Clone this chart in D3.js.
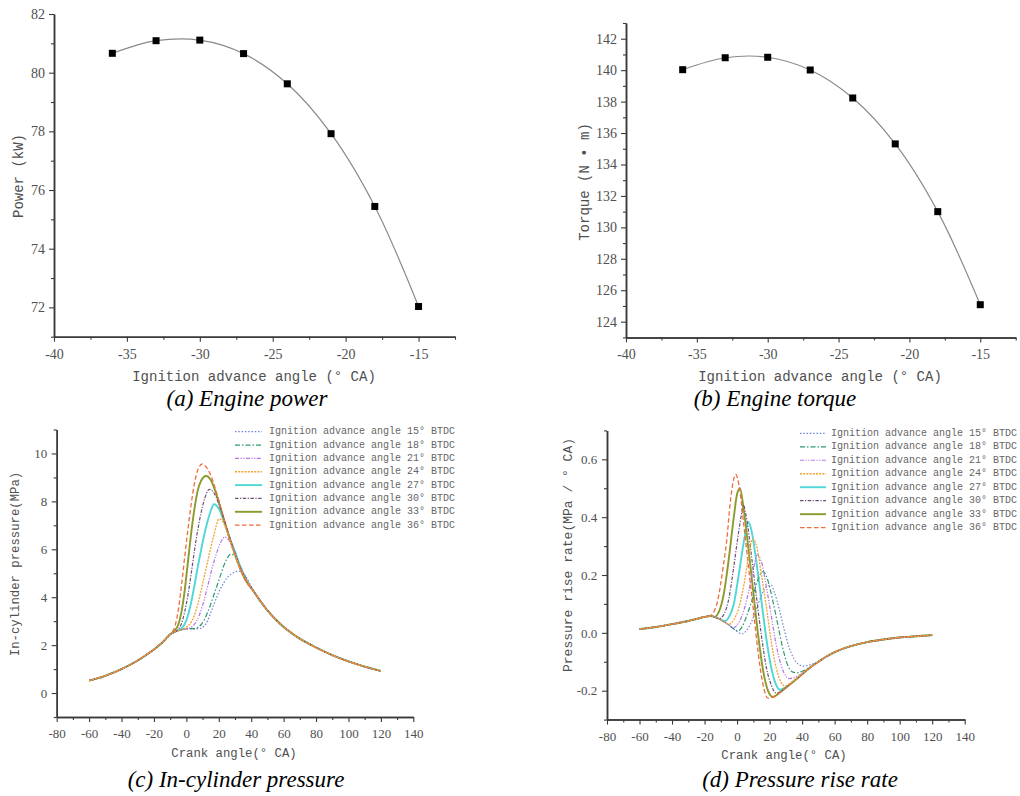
<!DOCTYPE html>
<html>
<head>
<meta charset="utf-8">
<script src="https://cdn.jsdelivr.net/npm/d3@7"></script>
<style>
  body { margin: 0; background: #fff; }
  svg { display: block; }
</style>
</head>
<body>
<svg id="chart" width="1020" height="796"></svg>
<script>
// ---------- data ----------
const advance = [-36, -33, -30, -27, -24, -21, -18, -15];
const power   = [80.66, 81.09, 81.11, 80.65, 79.62, 77.92, 75.44, 72.03];
const torque  = [140.03, 140.79, 140.82, 140.01, 138.23, 135.31, 131.0, 125.08];

const angles = ["15", "18", "21", "24", "27", "30", "33", "36"];

// (c) in-cylinder pressure, MPa — shared compression & expansion parts
const pComp = [[-60,0.52],[-55,0.61],[-50,0.72],[-45,0.85],[-40,1.0],[-35,1.17],[-30,1.36],[-25,1.58],[-20,1.82],[-15,2.1],[-10,2.45]];
const pTail = [[42,4.2],[45,3.9],[50,3.45],[55,3.08],[60,2.76],[65,2.5],[70,2.27],[80,1.9],[90,1.58],[100,1.32],[110,1.1],[120,0.92]];
const p15 = [[-5,2.6],[0,2.68],[5,2.68],[9,2.7],[11,2.8],[13,3.0],[15,3.35],[17,3.7],[19,4.05],[21,4.35],[23,4.6],[25,4.8],[28,4.98],[30,5.05],[32.6,5.09],[35,5.0],[38,4.72],[40,4.45]];
const p18 = [[-5,2.6],[0,2.68],[5,2.69],[7,2.74],[9,2.85],[11,3.05],[13,3.35],[15,3.7],[17,4.1],[19,4.5],[21,4.9],[23,5.3],[25,5.6],[27.3,5.8],[30,5.7],[33,5.3],[36,4.9],[39,4.5]];
const p21 = [[-5,2.6],[0,2.68],[2,2.71],[4,2.8],[6,2.97],[8,3.25],[10,3.65],[12,4.15],[14,4.7],[16,5.25],[18,5.7],[20,6.1],[22,6.4],[23.8,6.52],[26,6.4],[29,6.0],[32,5.45],[35,5.0],[38,4.6]];
const p24 = [[-5,2.6],[-1,2.7],[1,2.8],[3,2.97],[5,3.25],[7,3.7],[9,4.25],[11,4.85],[13,5.45],[15,6.05],[17,6.6],[18.5,7.0],[20.1,7.26],[22,7.2],[25,6.75],[28,6.15],[31,5.6],[34,5.1],[37,4.72]];
const p27 = [[-5,2.62],[-3,2.7],[-1,2.88],[1,3.25],[3,3.8],[5,4.5],[7,5.25],[9,5.95],[11,6.6],[13,7.15],[15,7.6],[17,7.88],[20,7.7],[23,7.2],[26,6.6],[30,5.9],[33,5.33],[36,4.86]];
const p30 = [[-7,2.55],[-5,2.66],[-3,2.9],[-1,3.4],[1,4.1],[3,5.0],[5,5.95],[7,6.8],[9,7.5],[11,8.05],[14.2,8.5],[17,8.35],[20,7.9],[23,7.3],[26,6.65],[30,5.85],[33,5.28],[36,4.82]];
const p33 = [[-7,2.62],[-5,2.85],[-3,3.4],[-1,4.3],[1,5.5],[3,6.7],[5,7.7],[7,8.45],[9,8.85],[12.1,9.06],[15,8.9],[18,8.4],[21,7.75],[24,7.05],[27,6.38],[30,5.78],[33,5.22],[36,4.78]];
const p36 = [[-7,2.8],[-5,3.45],[-3,4.5],[-1,5.7],[1,6.85],[3,7.9],[5,8.75],[7,9.3],[9.8,9.56],[12,9.45],[15,9.1],[18,8.5],[21,7.8],[24,7.05],[27,6.35],[30,5.75],[33,5.2],[36,4.75]];

// (d) pressure rise rate, MPa/°CA
const dComp = [[-60,0.013],[-50,0.02],[-40,0.03],[-30,0.041],[-25,0.048],[-20,0.055],[-17,0.058]];
const dTail = [[50,-0.1],[55,-0.082],[60,-0.067],[70,-0.046],[80,-0.032],[90,-0.023],[100,-0.016],[110,-0.012],[120,-0.008]];
const d15 = [[-15,0.057],[-10,0.045],[-5,0.027],[0,0.005],[3,-0.004],[6,0.01],[9,0.04],[12,0.085],[15,0.13],[18,0.16],[21,0.165],[23,0.14],[26,0.08],[29,0.01],[32,-0.05],[35,-0.09],[38,-0.11],[41,-0.115],[45,-0.11]];
const d18 = [[-15,0.057],[-10,0.045],[-5,0.027],[-2,0.013],[0.5,0.007],[3,0.02],[6,0.06],[9,0.11],[12,0.17],[14.5,0.205],[16,0.212],[19,0.18],[22,0.11],[25,0.03],[28,-0.05],[31,-0.11],[34,-0.135],[37,-0.138],[40,-0.133],[45,-0.118]];
const d21 = [[-15,0.057],[-10,0.045],[-5,0.027],[-2,0.018],[1,0.035],[4,0.075],[7,0.14],[10,0.22],[12.5,0.27],[15,0.245],[18,0.16],[21,0.06],[24,-0.04],[27,-0.11],[30,-0.15],[32,-0.158],[35,-0.155],[40,-0.14],[45,-0.12]];
const d24 = [[-15,0.057],[-10,0.045],[-5,0.03],[-2,0.045],[1,0.085],[4,0.16],[7,0.26],[9.5,0.325],[12,0.3],[15,0.2],[18,0.09],[21,-0.03],[24,-0.12],[27,-0.17],[29,-0.183],[32,-0.177],[35,-0.165],[40,-0.142],[45,-0.12]];
const d27 = [[-15,0.057],[-10,0.046],[-8,0.04],[-5,0.055],[-2,0.1],[1,0.2],[4,0.31],[6,0.37],[6.9,0.384],[9,0.35],[12,0.24],[15,0.11],[18,-0.02],[21,-0.12],[24,-0.18],[26.5,-0.197],[30,-0.188],[35,-0.166],[40,-0.143],[45,-0.12]];
const d30 = [[-15,0.057],[-11,0.049],[-8,0.065],[-5,0.12],[-2,0.23],[1,0.35],[3,0.42],[3.8,0.442],[6,0.39],[9,0.26],[12,0.12],[15,-0.01],[18,-0.12],[21,-0.18],[24,-0.208],[27,-0.203],[30,-0.19],[35,-0.167],[40,-0.143],[45,-0.12]];
const d33 = [[-15,0.057],[-14,0.055],[-11,0.075],[-8,0.14],[-5,0.26],[-2,0.4],[0,0.48],[1.8,0.5],[4,0.43],[7,0.29],[10,0.14],[13,-0.01],[16,-0.13],[19,-0.2],[22,-0.222],[25,-0.212],[30,-0.19],[35,-0.167],[40,-0.143],[45,-0.12]];
const d36 = [[-15,0.066],[-12,0.11],[-8.5,0.23],[-6,0.34],[-4.4,0.44],[-2.5,0.52],[-0.85,0.548],[1.5,0.5],[4,0.38],[7,0.23],[10,0.08],[13,-0.07],[16,-0.18],[19,-0.226],[22,-0.222],[25,-0.212],[30,-0.19],[35,-0.167],[40,-0.143],[45,-0.12]];

const pressure = [p15, p18, p21, p24, p27, p30, p33, p36].map(s => pComp.concat(s, pTail));
const riseRate = [d15, d18, d21, d24, d27, d30, d33, d36].map(s => dComp.concat(s, dTail));

// line styles per ignition angle
const styles = [
  { color: "#6d84dc", dash: "1.5,1.8", w: 1.2 },
  { color: "#2f9a6c", dash: "5,2,1.5,2", w: 1.2 },
  { color: "#b574e6", dash: "4,1.5,1.2,1.5,1.2,1.5", w: 1.2 },
  { color: "#f2a22e", dash: "2,1.2", w: 1.3 },
  { color: "#4fd6d6", dash: null, w: 1.9 },
  { color: "#6c5078", dash: "3.5,1.5,1.2,1.5", w: 1.2 },
  { color: "#8b9a2c", dash: null, w: 1.9 },
  { color: "#f06c3c", dash: "4.5,2.5", w: 1.3 }
];
// solid lines underneath, orange dotted on top (as in the plot)
const drawOrder = [4, 6, 0, 1, 2, 5, 7, 3];

// ---------- drawing ----------
const svg = d3.select("#chart");
const ink = "#3a3a3a", grey = "#505050";
const mono = "'Liberation Mono', monospace";
const serif = "'Liberation Serif', serif";

function frame(o) {
  const x = d3.scaleLinear().domain(o.xd).range(o.xr);
  const y = d3.scaleLinear().domain(o.yd).range(o.yr);
  const g = svg.append("g");
  const y0 = o.yr[0], x0 = o.xr[0];

  g.append("g").attr("transform", `translate(0,${y0})`)
    .call(d3.axisBottom(x).tickValues(o.xMinor).tickSize(3).tickSizeOuter(0).tickFormat(""));
  g.append("g").attr("transform", `translate(0,${y0})`)
    .call(d3.axisBottom(x).tickValues(o.xMajor).tickSize(5).tickSizeOuter(0)
      .tickPadding(o.xPad).tickFormat(o.xFmt));
  g.append("g").attr("transform", `translate(${x0},0)`)
    .call(d3.axisLeft(y).tickValues(o.yMinor).tickSize(3).tickSizeOuter(0).tickFormat(""));
  g.append("g").attr("transform", `translate(${x0},0)`)
    .call(d3.axisLeft(y).tickValues(o.yMajor).tickSize(5).tickSizeOuter(0)
      .tickPadding(o.yPad).tickFormat(o.yFmt));

  g.selectAll(".domain").attr("stroke", ink).attr("stroke-width", 1.5);
  g.selectAll(".tick line").attr("stroke", ink).attr("stroke-width", 1.1);
  g.selectAll(".tick text").attr("fill", grey)
    .style("font-family", serif).style("font-size", o.tickSize + "px");

  g.append("text").attr("x", o.xl[0]).attr("y", o.xl[1]).attr("text-anchor", "middle")
    .attr("fill", grey).style("font-family", mono).attr("font-size", o.labSize).text(o.xLabel);
  g.append("text").attr("transform", `translate(${o.yl[0]},${o.yl[1]}) rotate(-90)`)
    .attr("text-anchor", "middle").attr("dominant-baseline", "middle")
    .attr("fill", grey).style("font-family", mono).attr("font-size", o.ylSize || o.labSize).text(o.yLabel);

  g.append("text").attr("x", o.cap[0]).attr("y", o.cap[1]).attr("text-anchor", "middle")
    .attr("fill", "#000").style("font-family", serif).attr("font-style", "italic")
    .attr("font-size", 23).text(o.caption);
  return { g, x, y };
}

const intFmt = d => String(d);
const decFmt = d => d.toFixed(1);

function scatterPanel(o, vals) {
  const { g, x, y } = frame(o);
  const pts = advance.map((a, i) => [a, vals[i]]);
  g.append("path").datum(pts)
    .attr("d", d3.line().x(d => x(d[0])).y(d => y(d[1])).curve(d3.curveCatmullRom.alpha(0.5)))
    .attr("fill", "none").attr("stroke", "#8a8a8a").attr("stroke-width", 1.2);
  g.selectAll("rect.m").data(pts).join("rect")
    .attr("x", d => x(d[0]) - 3.5).attr("y", d => y(d[1]) - 3.5)
    .attr("width", 7).attr("height", 7).attr("fill", "#000");
}

function curvePanel(o, series, leg) {
  const { g, x, y } = frame(o);
  const line = d3.line().x(d => x(d[0])).y(d => y(d[1])).curve(d3.curveMonotoneX);
  drawOrder.forEach(i => {
    const st = styles[i];
    g.append("path").datum(series[i]).attr("d", line)
      .attr("fill", "none").attr("stroke", st.color).attr("stroke-width", st.w)
      .attr("stroke-dasharray", st.dash);
  });
  angles.forEach((a, i) => {
    const st = styles[i], ry = leg.y + i * leg.dy;
    g.append("line").attr("x1", leg.x1).attr("x2", leg.x2).attr("y1", ry).attr("y2", ry)
      .attr("stroke", st.color).attr("stroke-width", st.w).attr("stroke-dasharray", st.dash);
    g.append("text").attr("x", leg.tx).attr("y", ry).attr("dominant-baseline", "middle")
      .attr("fill", "#666").style("font-family", mono).attr("font-size", 10)
      .text(`Ignition advance angle ${a}° BTDC`);
  });
}

const advTicks = { xd: [-40, -12.5], xMajor: [-40, -35, -30, -25, -20, -15],
  xMinor: [-37.5, -32.5, -27.5, -22.5, -17.5, -12.5], xFmt: intFmt, yFmt: intFmt,
  xPad: 7, yPad: 4, tickSize: 14, labSize: 14, xLabel: "Ignition advance angle (° CA)" };

scatterPanel(Object.assign({}, advTicks, {
  xr: [54, 455], yd: [71, 82], yr: [336.7, 14],
  yMajor: [72, 74, 76, 78, 80, 82], yMinor: [71, 73, 75, 77, 79, 81],
  yLabel: "Power (kW)", xl: [254, 381], yl: [19, 176],
  caption: "(a) Engine power", cap: [247, 406]
}), power);

scatterPanel(Object.assign({}, advTicks, {
  xr: [626, 1015.7], yd: [123, 143], yr: [337.4, 23],
  yMajor: d3.range(124, 143, 2), yMinor: d3.range(123, 144, 2),
  yLabel: "Torque (N • m)", xl: [820, 381], yl: [585, 182],
  caption: "(b) Engine torque", cap: [775, 406]
}), torque);

const crankTicks = { xd: [-80, 140], xMajor: d3.range(-80, 141, 20), xMinor: d3.range(-70, 140, 20),
  xFmt: intFmt, xPad: 7, tickSize: 13, labSize: 12.3, xLabel: "Crank angle(° CA)" };

curvePanel(Object.assign({}, crankTicks, {
  xr: [56.7, 413.3], yd: [-1, 11], yr: [717, 429.5],
  yMajor: [0, 2, 4, 6, 8, 10], yMinor: [-1, 1, 3, 5, 7, 9, 11], yFmt: intFmt, yPad: 4.5,
  yLabel: "In-cylinder pressure(MPa)", xl: [234, 757], yl: [16, 564],
  caption: "(c) In-cylinder pressure", cap: [236, 787]
}), pressure, { x1: 235, x2: 262, tx: 269, y: 431.7, dy: 13.35 });

curvePanel(Object.assign({}, crankTicks, {
  xr: [607, 964.7], yd: [-0.3, 0.7], yr: [719.6, 430.4],
  yMajor: [-0.2, 0, 0.2, 0.4, 0.6], yMinor: [-0.3, -0.1, 0.1, 0.3, 0.5, 0.7], yFmt: decFmt, yPad: 4.7,
  yLabel: "Pressure rise rate(MPa / ° CA)", ylSize: 13, xl: [784, 759], yl: [569, 555],
  caption: "(d) Pressure rise rate", cap: [800, 787]
}), riseRate, { x1: 800, x2: 826, tx: 831, y: 433.3, dy: 13.48 });
</script>
</body>
</html>
